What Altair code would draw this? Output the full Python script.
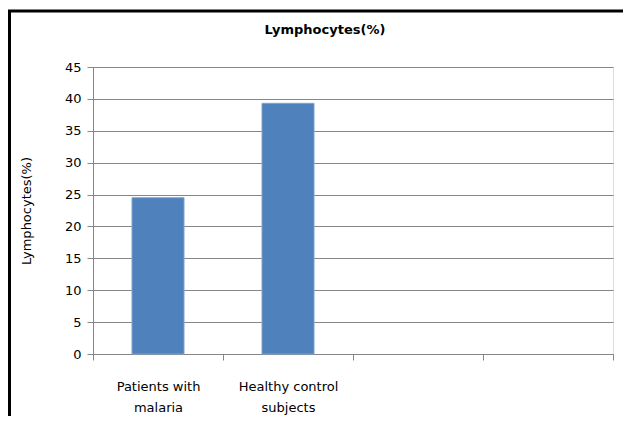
import altair as alt
import pandas as pd

categories = ["Patients with\nmalaria", "Healthy control\nsubjects", "c3", "c4"]
values = [24.5, 39.3, None, None]
y_ticks = [0, 5, 10, 15, 20, 25, 30, 35, 40, 45]
chart_title = "Lymphocytes(%)"

df = pd.DataFrame({"cat": categories, "val": values})

FONT = "DejaVu Sans"

bars = alt.Chart(df).mark_bar(
    color="#4F81BD", stroke="#7DA2CE", strokeWidth=1,
    width=alt.RelativeBandSize(0.4),
).encode(
    x=alt.X(
        "cat:N",
        sort=categories,
        scale=alt.Scale(paddingInner=0, paddingOuter=0),
        axis=alt.Axis(
            title=None,
            labelAngle=0,
            labelExpr="(datum.label == 'c3' || datum.label == 'c4') ? '' : split(datum.label, '\\n')",
            tickBand="extent",
            tickSize=6,
            tickColor="#868686",
            domainColor="#868686",
            labelPadding=20,
            labelFont=FONT,
            labelFontSize=13,
            labelColor="#000000",
            labelLineHeight=21,
            grid=False,
        ),
    ),
    y=alt.Y(
        "val:Q",
        scale=alt.Scale(domain=[0, 45], nice=False),
        axis=alt.Axis(
            title="Lymphocytes(%)",
            values=y_ticks,
            tickSize=6,
            tickColor="#868686",
            domainColor="#868686",
            gridColor="#868686",
            gridWidth=1,
            labelFont=FONT,
            labelFontSize=13,
            labelColor="#000000",
            labelPadding=6,
            titleFont=FONT,
            titleFontSize=13,
            titleFontWeight="normal",
            titleColor="#000000",
            titleX=-60,
        ),
    ),
)

border = alt.Chart(pd.DataFrame({"a": [0]})).mark_rect(
    fill=None, stroke="#000000", strokeWidth=3, clip=False
).encode(
    x=alt.value(-83.5), x2=alt.value(560), y=alt.value(-56), y2=alt.value(380)
)

title_mark = alt.Chart(pd.DataFrame({"t": [chart_title]})).mark_text(
    font=FONT, fontSize=13, fontWeight="bold", color="#000000",
    align="center", baseline="middle", clip=False,
).encode(text="t:N", x=alt.value(232), y=alt.value(-37))

chart = alt.layer(bars, border, title_mark).properties(
    width=520,
    height=287,
    autosize=alt.AutoSizeParams(type="none"),
    padding={"left": 85, "top": 59, "right": 10, "bottom": 62},
).configure_view(stroke=None).configure(background="#ffffff")

chart.save("out.html", embed_options={"renderer": "svg", "actions": False})
